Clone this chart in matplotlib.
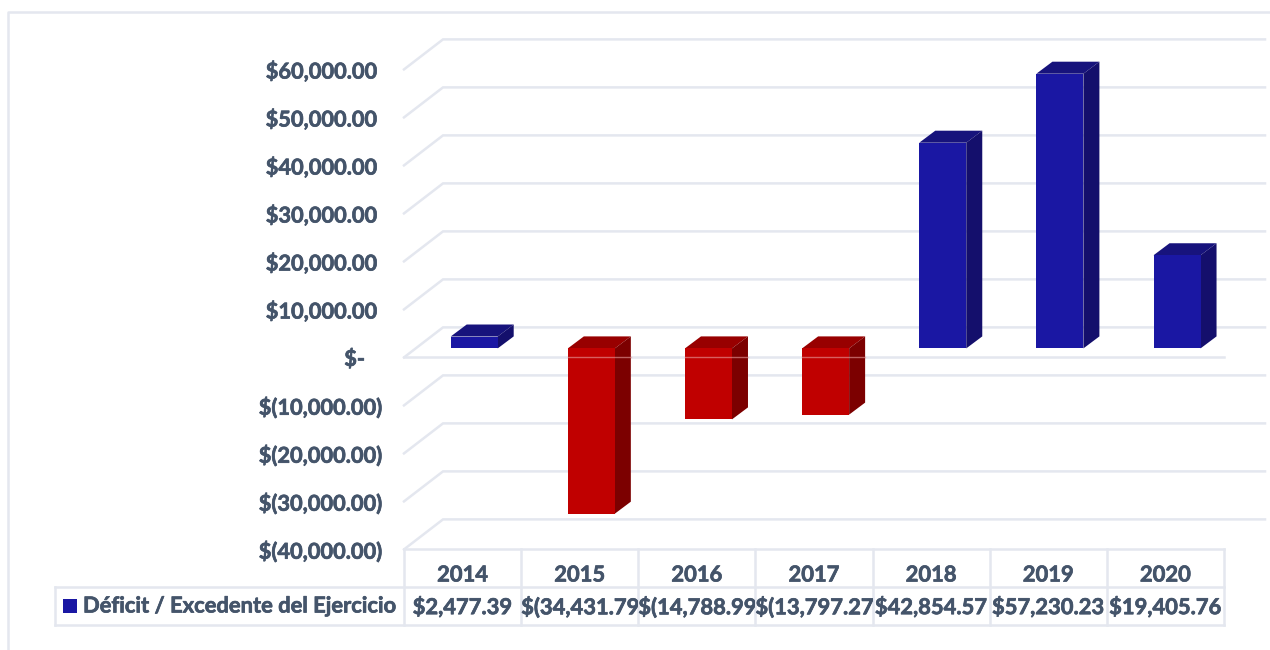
import matplotlib
matplotlib.use("Agg")
import matplotlib.pyplot as plt
import matplotlib.patheffects as pe
from matplotlib.patches import Polygon, Rectangle

years = ["2014", "2015", "2016", "2017", "2018", "2019", "2020"]
values = [2477.39, -34431.79, -14788.99, -13797.27, 42854.57, 57230.23, 19405.76]
axis_ticks = [60000, 50000, 40000, 30000, 20000, 10000, 0, -10000, -20000, -30000, -40000]
axis_labels = ["$60,000.00", "$50,000.00", "$40,000.00", "$30,000.00", "$20,000.00", "$10,000.00",
               "$-", "$(10,000.00)", "$(20,000.00)", "$(30,000.00)", "$(40,000.00)"]
label_pad = [5, 5, 5, 5, 5, 5, 16, 0, 0, 0, 0]
series_name = "Déficit / Excedente del Ejercicio"

GRID = "#e4e7ef"
TEXT = "#44546a"
BLUE = ("#1a17a3", "#17137c", "#140f6c")
RED = ("#c00000", "#980000", "#7c0000")
GRID_LW = 1.8

PX_X = 1 / 117.14       # one pixel in category units
PX_Y = 10000 / 48       # one pixel in value units
X0_PX = 462.6           # pixel of first category centre
Y0_PX = 348.4           # pixel of value 0 on the bar front


def xp(px):
    return (px - X0_PX) * PX_X


def yp(px):
    return (Y0_PX - px) * PX_Y


plt.rcParams["font.family"] = ["Lato", "DejaVu Sans"]
plt.rcParams["font.weight"] = "bold"
heavy = [pe.withStroke(linewidth=0.5, foreground=TEXT)]

fig = plt.figure(figsize=(12.7, 6.5), dpi=100)
ax = fig.add_axes([0, 0, 1, 1])
ax.set_xlim(xp(0), xp(1270))
ax.set_ylim(yp(650), yp(0))
ax.axis("off")

# outer frame
ax.plot([xp(8), xp(8), xp(1270)], [yp(650), yp(12), yp(12)], color=GRID, lw=GRID_LW, zorder=1)

# gridlines, front edge is 9px under the bar base, back edge 21px over it
for v in axis_ticks:
    ax.plot([xp(404), xp(443), xp(1265)],
            [v - 9 * PX_Y, v + 21 * PX_Y, v + 21 * PX_Y],
            color=GRID, lw=GRID_LW, zorder=1, solid_joinstyle="miter")
ax.plot([xp(404), xp(1224)], [-9 * PX_Y, -9 * PX_Y], color=GRID, lw=GRID_LW, zorder=1)

# y labels
for v, lab, pad in zip(axis_ticks, axis_labels, label_pad):
    ax.text(xp(381 - pad), v - 11 * PX_Y, lab, ha="right", va="center", fontsize=15.7, color=TEXT,
            path_effects=heavy)

# bars with fake 3d faces
half = 23.5 * PX_X
dx = 16 * PX_X
dy = 12 * PX_Y
shift = 11.6 * PX_X
for i, v in enumerate(values):
    front, top, side = BLUE if v >= 0 else RED
    left = i + shift - half
    right = i + shift + half
    hi = max(v, 0)
    lo = min(v, 0)
    ax.add_patch(Polygon([(left, hi), (left + dx, hi + dy), (right + dx, hi + dy), (right, hi)],
                         facecolor=top, edgecolor="none", zorder=3))
    ax.add_patch(Polygon([(right, hi), (right + dx, hi + dy), (right + dx, lo + dy), (right, lo)],
                         facecolor=side, edgecolor="none", zorder=3))
    ax.bar(i + shift, hi - lo, bottom=lo, width=2 * half, color=front, edgecolor="none", zorder=4)
    if v < 0:
        # axis line shows through the red bars
        ax.plot([left, right + dx], [-9 * PX_Y, -9 * PX_Y], color="#e8a0a0", lw=1.0, alpha=0.6, zorder=5)

# data table under the plot
n = len(years)
ax.plot([xp(404), xp(1224)], [yp(549), yp(549)], color=GRID, lw=GRID_LW, zorder=1)
ax.plot([xp(55), xp(1224)], [yp(587), yp(587)], color=GRID, lw=GRID_LW, zorder=1)
ax.plot([xp(55), xp(1224)], [yp(625), yp(625)], color=GRID, lw=GRID_LW, zorder=1)
ax.plot([xp(55), xp(55)], [yp(587), yp(625)], color=GRID, lw=GRID_LW, zorder=1)
for i in range(n + 1):
    ax.plot([i - 0.5, i - 0.5], [yp(549), yp(625)], color=GRID, lw=GRID_LW, zorder=1)

for i, (yr, v) in enumerate(zip(years, values)):
    ax.text(i, yp(575), yr, ha="center", va="center", fontsize=15.8, color=TEXT, path_effects=heavy)
    if v >= 0:
        ax.text(i, yp(607), f"${v:,.2f}", ha="center", va="center", fontsize=15.8, color=TEXT,
                path_effects=heavy)
    else:
        # too wide for the cell, the closing bracket gets cut off
        t = ax.text(i - 0.5, yp(607), f"$({-v:,.2f})", ha="left", va="center",
                    fontsize=15.8, color=TEXT, clip_on=True, path_effects=heavy)
        t.set_clip_path(Rectangle((i - 0.5, yp(625)), 1, yp(587) - yp(625), transform=ax.transData))

ax.add_patch(Rectangle((xp(63), yp(613)), 14 * PX_X, 14 * PX_Y, facecolor=BLUE[0], edgecolor="none", zorder=3))
ax.text(xp(83), yp(606), series_name, ha="left", va="center", fontsize=15.8, color=TEXT, path_effects=heavy)

fig.savefig("out.png", dpi=100)
